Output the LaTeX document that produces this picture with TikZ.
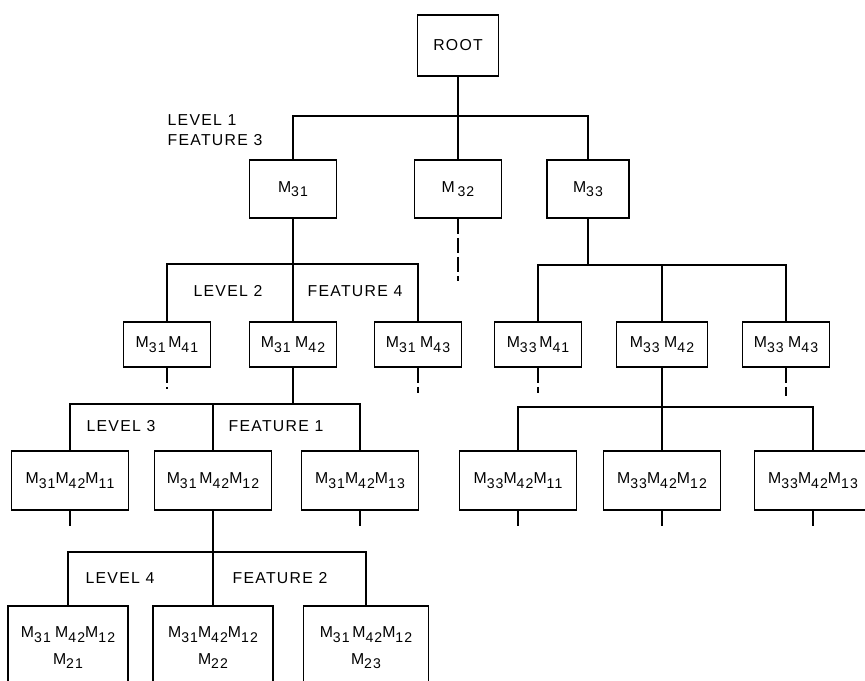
\documentclass[tikz,border=0pt]{standalone}
\usepackage{fontspec}
\setmainfont[LetterSpace=8]{Liberation Sans}
\usetikzlibrary{positioning}

\newcommand{\Mk}[1]{M\raisebox{-0.55ex}{\footnotesize #1}}

\begin{document}
\begin{tikzpicture}[
  on grid,
  line width=1pt,
  font=\fontsize{9}{11}\selectfont,
  box/.style={
    rectangle,
    draw,
    align=center,
    inner sep=2pt
  },
  rootbox/.style={box, minimum width=1.62cm, minimum height=1.22cm},
  onebox/.style={box, minimum width=1.74cm, minimum height=1.16cm},
  twobox/.style={box, minimum width=1.74cm, minimum height=0.9cm},
  threebox/.style={box, minimum width=2.34cm, minimum height=1.18cm},
  fourbox/.style={box, minimum width=2.4cm, minimum height=1.68cm,
    font=\fontsize{9}{15}\selectfont},
  stub/.style={dash pattern=on 0.3cm off 0.08cm},
  lbl/.style={inner sep=0pt, align=left}
]
\clip (0,0) rectangle (17.3,-13.6);

\node[rootbox] (root) at (9.16,-0.91) {ROOT};

% level 1
\node[onebox, below left=2.87cm and 3.30cm of root] (m31) {\Mk{31}};
\node[onebox, below=2.87cm of root] (m32) {M\,\raisebox{-0.55ex}{\footnotesize 32}};
\node[onebox, minimum width=1.64cm, below right=2.87cm and 2.60cm of root] (m33) {\Mk{33}};

\node[lbl, above left=1.18cm and 1.56cm of m31] (lv1) {LEVEL 1\\FEATURE 3};

% level 2
\node[twobox, below left=3.11cm and 2.52cm of m31] (m3141) {\Mk{31}\,\Mk{41}};
\node[twobox, below=3.11cm of m31] (m3142) {\Mk{31}\;\Mk{42}};
\node[twobox, below right=3.11cm and 2.50cm of m31] (m3143) {\Mk{31}\;\Mk{43}};

\node[twobox, below left=3.11cm and 1.00cm of m33] (m3341) {\Mk{33}\,\Mk{41}};
\node[twobox, minimum width=1.82cm, below right=3.11cm and 1.48cm of m33] (m3342) {\Mk{33}\;\Mk{42}};
\node[twobox, below right=3.11cm and 3.96cm of m33] (m3343) {\Mk{33}\;\Mk{43}};

% level 3
\node[threebox, below left=2.72cm and 4.46cm of m3142] (m314211) {\Mk{31}\Mk{42}\Mk{11}};
\node[threebox, below left=2.72cm and 1.60cm of m3142] (m314212) {\Mk{31}\,\Mk{42}\Mk{12}};
\node[threebox, below right=2.72cm and 1.34cm of m3142] (m314213) {\Mk{31}\Mk{42}\Mk{13}};

\node[threebox, below left=2.72cm and 2.88cm of m3342] (m334211) {\Mk{33}\Mk{42}\Mk{11}};
\node[threebox, below=2.72cm of m3342] (m334212) {\Mk{33}\Mk{42}\Mk{12}};
\node[threebox, below right=2.72cm and 3.02cm of m3342] (m334213) {\Mk{33}\Mk{42}\Mk{13}};

% level 4
\node[fourbox, below left=3.35cm and 2.90cm of m314212] (m21) {\Mk{31}\;\Mk{42}\Mk{12}\\\Mk{21}};
\node[fourbox, below=3.35cm of m314212] (m22) {\Mk{31}\Mk{42}\Mk{12}\\\Mk{22}};
\node[fourbox, minimum width=2.5cm, below right=3.35cm and 3.06cm of m314212] (m23) {\Mk{31}\,\Mk{42}\Mk{12}\\\Mk{23}};

% bars
\coordinate[below=0.78cm of root.south] (b1);
\coordinate[below=0.90cm of m31.south] (b2);
\coordinate[below=0.92cm of m33.south] (b2r);
\coordinate[below=0.72cm of m3142.south] (b3);
\coordinate[below=0.78cm of m3342.south] (b3r);
\coordinate[below=0.82cm of m314212.south] (b4);

\node[lbl, below left=0.54cm and 1.30cm of b2, anchor=center] (lv2) {LEVEL 2};
\node[lbl, below right=0.54cm and 1.24cm of b2, anchor=center] (ft4) {FEATURE 4};
\node[lbl, below left=0.44cm and 3.44cm of b3, anchor=center] (lv3) {LEVEL 3};
\node[lbl, below left=0.44cm and 0.34cm of b3, anchor=center] (ft1) {FEATURE 1};
\node[lbl, below left=0.52cm and 1.86cm of b4, anchor=center] (lv4) {LEVEL 4};
\node[lbl, below right=0.52cm and 1.34cm of b4, anchor=center] (ft2) {FEATURE 2};

\draw (root) -- (b1);
\foreach \c in {m31, m32, m33}
  \draw (b1) -| (\c);

\draw (m31) -- (b2);
\foreach \c in {m3141, m3142, m3143}
  \draw (b2) -| (\c);

\draw (m33) -- (b2r);
\foreach \c in {m3341, m3342, m3343}
  \draw (b2r) -| (\c);

\draw (m3142) -- (b3);
\foreach \c in {m314211, m314212, m314213}
  \draw (b3) -| (\c);

\draw (m3342) -- (b3r);
\foreach \c in {m334211, m334212, m334213}
  \draw (b3r) -| (\c);

\draw (m314212) -- (b4);
\foreach \c in {m21, m22, m23}
  \draw (b4) -| (\c);

% loose ends
\foreach \c/\len in {m32/1.24, m3141/0.42, m3143/0.50, m3341/0.50, m3343/0.56,
    m314211/0.30, m314213/0.36, m334211/0.30, m334212/0.36, m334213/0.36} {
  \coordinate[below=\len cm of \c.south] (\c end);
  \draw[stub] (\c.south) -- (\c end);
}

\end{tikzpicture}
\end{document}
